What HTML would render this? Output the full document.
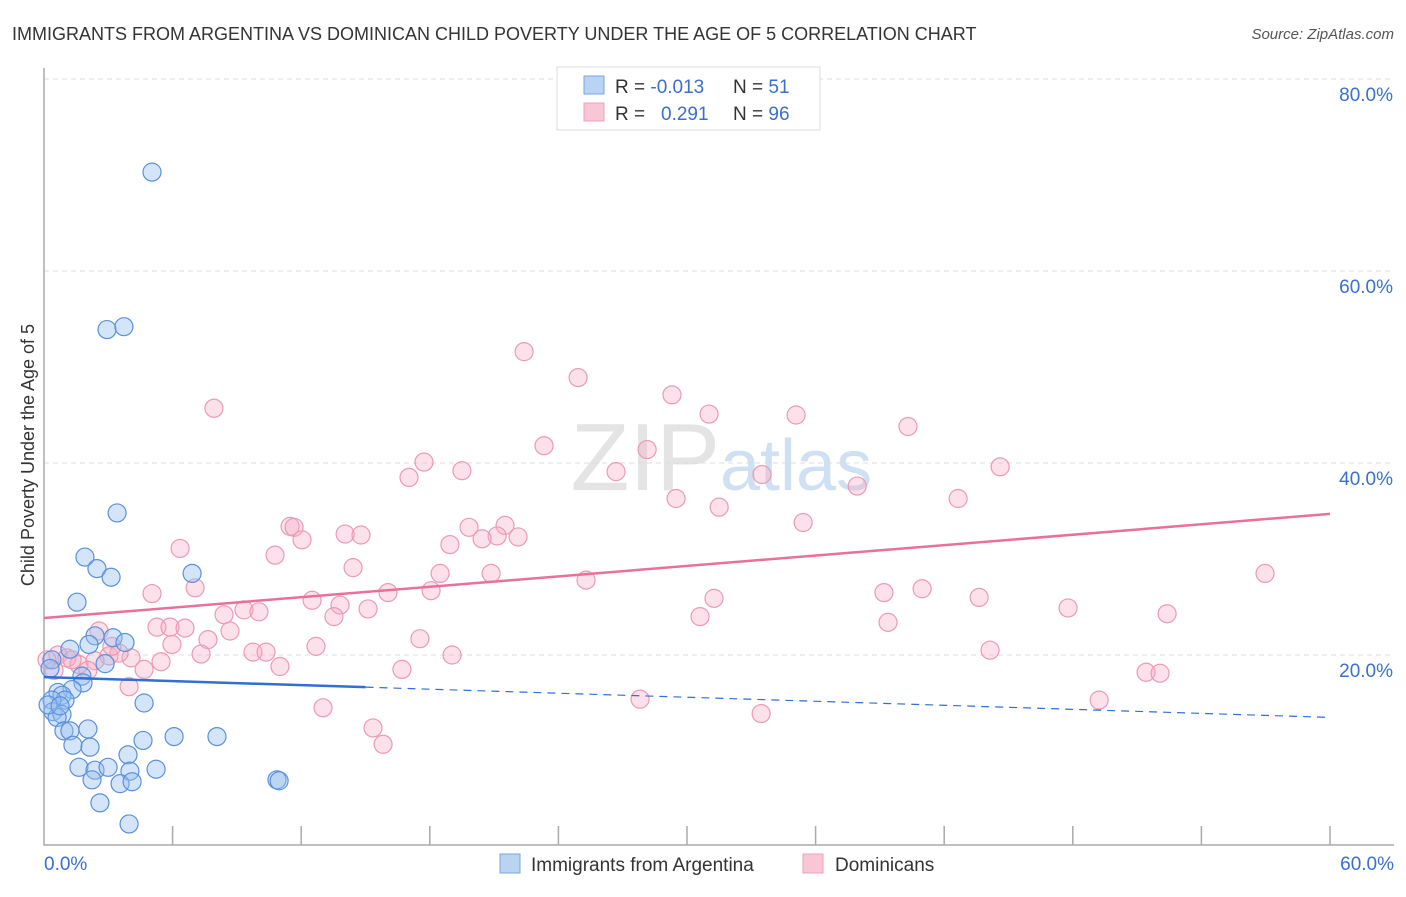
<!DOCTYPE html>
<html><head><meta charset="utf-8">
<style>
body{margin:0;background:#fff;font-family:"Liberation Sans",sans-serif;}
svg text{font-family:"Liberation Sans",sans-serif;}
</style></head>
<body>
<svg id="chart" width="1406" height="892" viewBox="0 0 1406 892">
<text x="12" y="40" font-size="18" fill="#333">IMMIGRANTS FROM ARGENTINA VS DOMINICAN CHILD POVERTY UNDER THE AGE OF 5 CORRELATION CHART</text>
<text x="1394" y="39" font-size="15" fill="#555" text-anchor="end" font-style="italic">Source: ZipAtlas.com</text>
<text x="720" y="490" font-size="96" fill="#e4e4e4" text-anchor="end" font-family="Liberation Serif">ZIP</text>
<text x="720" y="490" font-size="72" fill="#cfe0f3">atlas</text>
<g id="grid"></g>
<g id="axes"></g>
<g id="pts"></g>
<g id="trend"></g>
<text transform="translate(34,455) rotate(-90)" font-size="18" fill="#333" text-anchor="middle">Child Poverty Under the Age of 5</text>
<g>
<rect x="557" y="67" width="263" height="63" fill="#fff" stroke="#ddd"/>
<rect x="584" y="76" width="20" height="18" fill="#b9d3f3" stroke="#7aa6e0"/>
<rect x="584" y="103" width="20" height="18" fill="#f9c6d5" stroke="#eea0b8"/>
<text x="615" y="93" font-size="19" fill="#333">R = <tspan fill="#3a6fd0">-0.013</tspan></text>
<text x="733" y="93" font-size="19" fill="#333">N = <tspan fill="#3a6fd0"> 51</tspan></text>
<text x="615" y="120" font-size="19" fill="#333">R = <tspan fill="#3a6fd0" x="661">0.291</tspan></text>
<text x="733" y="120" font-size="19" fill="#333">N = <tspan fill="#3a6fd0">96</tspan></text>
</g>
<g>
<rect x="500" y="854" width="20" height="19" fill="#b9d3f3" stroke="#7aa6e0"/>
<text x="531" y="871" font-size="19" fill="#333">Immigrants from Argentina</text>
<rect x="803" y="854" width="20" height="19" fill="#f9c6d5" stroke="#eea0b8"/>
<text x="835" y="871" font-size="19" fill="#333">Dominicans</text>
</g>
</svg>
<script>
const yTicks=[20,40,60,80];
const yTickLabels=["20.0%","40.0%","60.0%","80.0%"];
const xTicks=[0,6,12,18,24,30,36,42,48,54,60];
const blueX=[5.04,2.94,3.73,3.41,1.91,2.47,3.13,1.54,6.91,2.38,3.22,3.78,2.10,1.21,2.85,0.37,1.77,1.82,1.31,0.65,0.84,0.98,0.37,4.67,0.42,0.84,0.61,2.05,0.93,1.21,1.35,2.15,6.07,8.07,4.62,3.92,1.63,2.38,2.99,5.23,4.01,2.24,3.55,10.87,10.97,4.11,2.61,3.97,0.28,0.19,0.75];
const blueY=[70.3,53.9,54.2,34.8,30.2,29.0,28.1,25.5,28.5,22.0,21.8,21.3,21.1,20.6,19.1,19.5,17.8,17.1,16.4,16.1,15.8,15.3,15.3,15.0,14.1,13.8,13.5,12.3,12.1,12.1,10.6,10.4,11.5,11.5,11.1,9.6,8.3,8.0,8.3,8.1,7.9,7.0,6.6,7.0,6.9,6.8,4.6,2.4,18.6,14.8,14.7];
const pinkX=[22.40,24.92,29.30,7.93,31.03,35.09,40.31,23.33,28.14,17.73,19.50,26.69,17.03,33.50,44.61,37.94,29.49,42.65,31.50,11.48,11.67,19.83,21.51,35.42,14.05,14.79,12.04,21.14,22.12,20.44,6.35,18.94,10.78,14.42,18.48,20.86,25.29,7.05,5.04,16.05,18.06,12.51,31.26,39.19,40.97,43.63,56.97,13.81,9.33,10.03,15.12,47.78,52.40,8.40,13.53,30.61,39.38,5.27,5.88,6.58,8.68,2.57,17.54,7.65,5.97,12.69,19.04,7.33,9.75,10.36,44.14,3.03,4.06,3.50,0.65,1.07,5.46,1.63,2.38,4.67,11.01,16.70,51.42,52.07,2.05,3.97,27.81,49.23,13.02,33.46,15.35,15.82,0.47,0.14,1.31,3.17];
const pinkY=[51.6,48.9,47.1,45.7,45.1,45.0,43.8,41.8,41.4,40.1,39.2,39.1,38.5,38.8,39.6,37.6,36.3,36.3,35.4,33.4,33.3,33.3,33.5,33.8,32.6,32.5,32.0,32.4,32.3,32.1,31.1,31.5,30.4,29.1,28.5,28.5,27.8,27.0,26.4,26.5,26.7,25.7,25.9,26.5,26.9,26.0,28.5,25.2,24.7,24.5,24.8,24.9,24.3,24.2,24.0,24.0,23.4,22.9,22.9,22.8,22.5,22.5,21.7,21.6,21.1,20.9,20.0,20.1,20.3,20.3,20.5,19.9,19.7,20.2,20.0,19.7,19.3,19.0,19.4,18.5,18.8,18.5,18.2,18.1,18.4,16.7,15.4,15.3,14.5,13.9,12.4,10.7,18.4,19.5,19.5,20.9];
const pinkTrend=[23.85,34.7];
const blueTrend=[17.7,13.5];
const blueSolidEnd=15;

const NS="http://www.w3.org/2000/svg";
const X0=44,X1=1330,Y0=847;
const sx=v=>X0+(X1-X0)*v/60;
const sy=v=>Y0-v*9.6;
function mk(tag,attrs,parent){const e=document.createElementNS(NS,tag);for(const k in attrs)e.setAttribute(k,attrs[k]);parent.appendChild(e);return e;}
const grid=document.getElementById('grid'),axes=document.getElementById('axes'),pts=document.getElementById('pts'),trend=document.getElementById('trend');
yTicks.forEach((t,i)=>{
 const l=mk('line',{x1:X0,x2:1394,y1:sy(t),y2:sy(t),stroke:'#ddd','stroke-dasharray':'5,4'},grid);
 
 
 const tx=mk('text',{x:1393,y:sy(t)+22,'font-size':19,fill:'#3a6fd0','text-anchor':'end'},grid);
 tx.textContent=yTickLabels[i];
 
 
});
const ax=mk('path',{d:`M${X0},68 V845 H1394`,stroke:'#aaa',fill:'none','stroke-width':1.5},axes);


xTicks.forEach(t=>{
 if(t===0)return;
 const l=mk('line',{x1:sx(t),x2:sx(t),y1:826,y2:845,stroke:'#aaa','stroke-width':1.5},axes);
 
 
});
const xl0=mk('text',{x:44,y:870,'font-size':19,fill:'#3a6fd0'},axes);xl0.textContent='0.0%';


const xl1=mk('text',{x:1394,y:870,'font-size':19,fill:'#3a6fd0','text-anchor':'end'},axes);xl1.textContent='60.0%';


pinkX.forEach((x,i)=>{
 const c=mk('circle',{cx:sx(x),cy:sy(pinkY[i]),r:9,fill:'rgba(245,170,195,0.35)',stroke:'#eb9ab3','stroke-width':1.2},pts);
 
 
});
blueX.forEach((x,i)=>{
 const c=mk('circle',{cx:sx(x),cy:sy(blueY[i]),r:9,fill:'rgba(150,190,240,0.4)',stroke:'#5a90dc','stroke-width':1.2},pts);
 
 
});
const pl=mk('line',{x1:sx(0),y1:sy(pinkTrend[0]),x2:sx(60),y2:sy(pinkTrend[1]),stroke:'#e8709a','stroke-width':2.5},trend);


const bAt=v=>blueTrend[0]+(blueTrend[1]-blueTrend[0])*v/60;
const bl=mk('line',{x1:sx(0),y1:sy(blueTrend[0]),x2:sx(blueSolidEnd),y2:sy(bAt(blueSolidEnd)),stroke:'#2f6fd6','stroke-width':2.5},trend);


const bd=mk('line',{x1:sx(blueSolidEnd),y1:sy(bAt(blueSolidEnd)),x2:sx(60),y2:sy(blueTrend[1]),stroke:'#2f6fd6','stroke-width':1.2,'stroke-dasharray':'8,6'},trend);


</script>
</body></html>
